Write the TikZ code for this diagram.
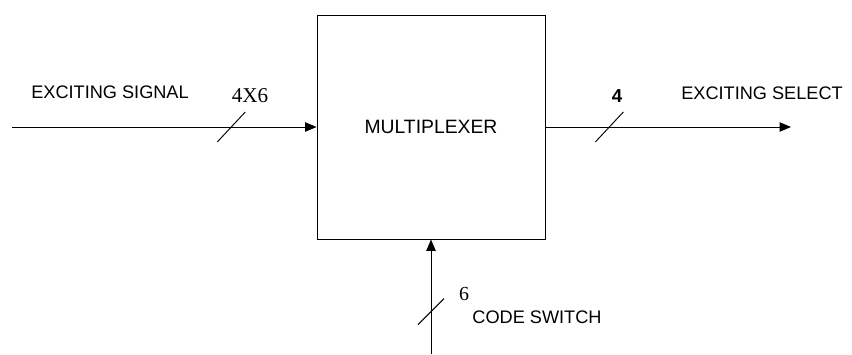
\documentclass[tikz,border=0pt]{standalone}
\usepackage{fontspec}
\setmainfont{Liberation Serif}
\setsansfont{Liberation Sans}
\usetikzlibrary{arrows.meta,positioning}

\begin{document}
\begin{tikzpicture}[
    x=0.03cm, y=-0.03cm,
    block/.style={
        draw,
        line width=0.8pt,
        minimum width=6.84cm,
        minimum height=6.72cm,
        inner sep=0pt,
        font=\sffamily\fontsize{16.5}{18}\selectfont
    },
    signal/.style={inner sep=0pt, font=\sffamily\fontsize{15.5}{18}\selectfont},
    buswidth/.style={inner sep=0pt, font=\fontsize{18}{20}\selectfont},
    arrow/.style={-{Triangle[length=3.4mm,width=2.8mm]}, line width=0.8pt},
    slash/.style={line width=0.8pt}
]
\useasboundingbox (0,0) rectangle (852,354);

\node[block] (mux) at (431,127) {MULTIPLEXER};

\coordinate (insrc) at (12,127);
\coordinate (outdst) at (791,127);
\coordinate (codesrc) at (431,354);

\draw[arrow] (insrc) -- coordinate[pos=0.72] (inbus) (mux.west);
\draw[arrow] (mux.east) -- coordinate[pos=0.26] (outbus) (outdst);
\draw[arrow] (codesrc) -- coordinate[pos=0.37] (codebus) (mux.south);

% bus width marks
\draw[slash] ([shift={(-14,15)}]inbus) -- ([shift={(14,-15)}]inbus);
\draw[slash] ([shift={(-14,15)}]outbus) -- ([shift={(14,-15)}]outbus);
\draw[slash] ([shift={(-13,13)}]codebus) -- ([shift={(13,-13)}]codebus);

\node[signal] (insig) at (110,92) {EXCITING SIGNAL};
\node[buswidth] (inwidth) at (250,96) {4X6};
\node[signal, font=\sffamily\bfseries\fontsize{16}{18}\selectfont] (outwidth) at (617,96) {4};
\node[signal] (outsel) at (762,93) {EXCITING SELECT};
\node[buswidth, font=\fontsize{17}{18}\selectfont] (codewidth) at (464,294) {6};
\node[signal] (codesw) at (537,317) {CODE SWITCH};
\end{tikzpicture}
\end{document}
